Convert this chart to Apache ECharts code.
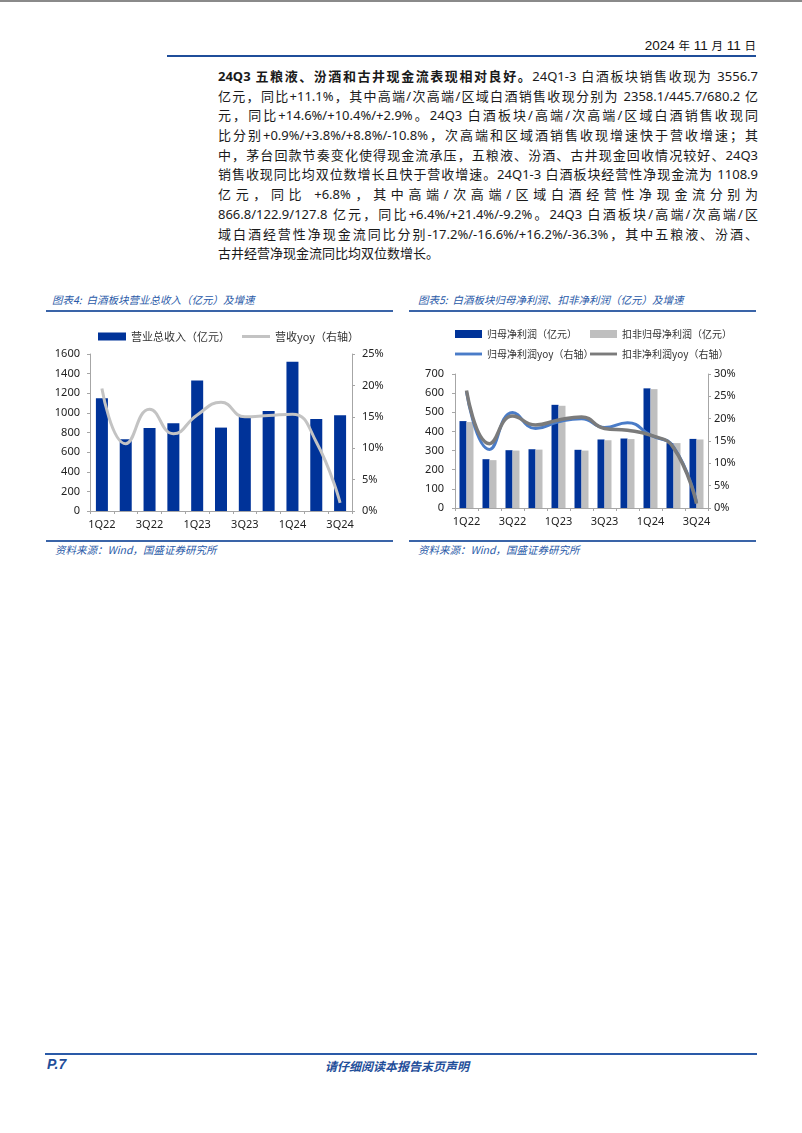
<!DOCTYPE html>
<html><head><meta charset="utf-8">
<script src="https://cdn.jsdelivr.net/npm/echarts@6/dist/echarts.min.js"></script>
<style>
html,body{margin:0;padding:0;background:#fff;}
body{width:802px;height:1133px;position:relative;overflow:hidden;font-family:"Noto Sans","Noto Sans CJK SC",sans-serif;}
.abs{position:absolute;}
#topline{left:0;top:0;width:802px;height:2px;background:#8a8a8a;}
#date{right:46px;top:37px;font-size:13.5px;color:#111;font-family:"Liberation Sans","Noto Sans CJK SC",sans-serif;}
#date .c{font-size:11.5px;}
#hline{left:167px;top:55px;width:589px;height:2px;background:#1f4e9a;}
#body{left:218px;top:67px;width:540px;font-size:13px;color:#1a1a1a;}
#body div{height:19.7px;line-height:19.7px;white-space:nowrap;text-align:justify;text-align-last:justify;}
#body div.last{text-align-last:left;}
.ttl{font-size:10.5px;font-style:italic;color:#2a5aa8;font-family:"Noto Sans CJK SC",sans-serif;}
.bl{height:2px;background:#3a64a8;}
.src{font-size:10.5px;font-style:italic;color:#2a5aa8;font-family:"Noto Sans CJK SC",sans-serif;}
#fline{left:45px;top:1053px;width:712px;height:2px;background:#2a5aa8;}
#pno{left:47px;top:1056px;font-size:14px;font-weight:bold;font-style:italic;color:#1f4e9a;font-family:"Liberation Sans",sans-serif;}
#fnote{left:0;width:794px;text-align:center;top:1057px;font-size:12px;font-weight:bold;font-style:italic;color:#1f4e9a;font-family:"Noto Sans CJK SC",sans-serif;}
</style></head>
<body>
<div id="topline" class="abs"></div>
<div id="date" class="abs">2024 <span class="c">年</span> 11 <span class="c">月</span> 11 <span class="c">日</span></div>
<div id="hline" class="abs"></div>
<div id="body" class="abs">
<div><b>24Q3 五粮液、汾酒和古井现金流表现相对良好。</b>24Q1-3 白酒板块销售收现为 3556.7</div>
<div>亿元，同比+11.1%，其中高端/次高端/区域白酒销售收现分别为 2358.1/445.7/680.2 亿</div>
<div>元，同比+14.6%/+10.4%/+2.9%。24Q3 白酒板块/高端/次高端/区域白酒销售收现同</div>
<div>比分别+0.9%/+3.8%/+8.8%/-10.8%，次高端和区域酒销售收现增速快于营收增速；其</div>
<div>中，茅台回款节奏变化使得现金流承压，五粮液、汾酒、古井现金回收情况较好、24Q3</div>
<div>销售收现同比均双位数增长且快于营收增速。24Q1-3 白酒板块经营性净现金流为 1108.9</div>
<div>亿元，同比 +6.8%，其中高端/次高端/区域白酒经营性净现金流分别为</div>
<div>866.8/122.9/127.8 亿元，同比+6.4%/+21.4%/-9.2%。24Q3 白酒板块/高端/次高端/区</div>
<div>域白酒经营性净现金流同比分别-17.2%/-16.6%/+16.2%/-36.3%，其中五粮液、汾酒、</div>
<div class="last">古井经营净现金流同比均双位数增长。</div>
</div>

<div class="abs ttl" style="left:52px;top:292px;">图表4:&nbsp; 白酒板块营业总收入（亿元）及增速</div>
<div class="abs bl" style="left:46px;top:310px;width:347px;"></div>
<div class="abs ttl" style="left:418px;top:292px;">图表5:&nbsp; 白酒板块归母净利润、扣非净利润（亿元）及增速</div>
<div class="abs bl" style="left:409px;top:310px;width:347px;"></div>

<div id="c1" class="abs" style="left:40px;top:318px;width:370px;height:220px;"></div>
<div id="c2" class="abs" style="left:405px;top:318px;width:360px;height:220px;"></div>

<div class="abs bl" style="left:46px;top:540px;width:347px;"></div>
<div class="abs bl" style="left:409px;top:540px;width:347px;"></div>
<div class="abs src" style="left:55px;top:542px;">资料来源：Wind，国盛证券研究所</div>
<div class="abs src" style="left:418px;top:542px;">资料来源：Wind，国盛证券研究所</div>

<div id="fline" class="abs"></div>
<div id="pno" class="abs">P.7</div>
<div id="fnote" class="abs">请仔细阅读本报告末页声明</div>

<script>
// ---- data ----
const quarters = ['1Q22','2Q22','3Q22','4Q22','1Q23','2Q23','3Q23','4Q23','1Q24','2Q24','3Q24'];
const revenue = [1150, 730, 845, 893, 1330, 850, 964, 1020, 1522, 938, 975];
const revenueYoy = [19.5, 10.7, 16.2, 12.3, 15.3, 17.3, 15.0, 15.2, 15.4, 11.0, 1.3];
const netProfit = [454, 255, 302, 307, 539, 304, 358, 363, 625, 339, 361];
const deductProfit = [449, 250, 300, 305, 534, 300, 354, 360, 621, 339, 358];
const netProfitYoy = [26.0, 13.1, 21.4, 17.8, 19.3, 20.0, 18.0, 19.1, 16.3, 13.7, 1.3];
const deductProfitYoy = [26.3, 14.4, 20.6, 18.6, 19.7, 20.4, 17.8, 17.4, 16.3, 13.5, 1.0];
const leftTicks1 = {min:0, max:1600, interval:200};
const rightTicks1 = {min:0, max:25, interval:5};
const leftTicks2 = {min:0, max:700, interval:100};
const rightTicks2 = {min:0, max:30, interval:5};

const BLUE = '#003399';
const axisFont = 'Noto Sans';
const axisLine = {show:true, lineStyle:{color:'#a6a6a6', width:1}};
const legendFont = {fontFamily:'Noto Sans CJK SC', color:'#333'};
const LINE_ICON = 'path://M0,0 L30,0 L30,3.2 L0,3.2 Z';

function xAxis(){
  return {type:'category', data:quarters, boundaryGap:true,
    axisLine:axisLine,
    axisTick:{show:true, interval:0, length:3, lineStyle:{color:'#a6a6a6'}},
    axisLabel:{interval:1, fontSize:11, fontFamily:axisFont, color:'#222', margin:8}};
}
function yAxis(t, pos, pct, margin){
  return {type:'value', position:pos, min:t.min, max:t.max, interval:t.interval,
    axisLine:axisLine,
    axisTick:{show:true, length:3, lineStyle:{color:'#a6a6a6'}},
    splitLine:{show:false},
    axisLabel:{fontSize:11, fontFamily:axisFont, color:'#222', margin:margin,
      formatter: function(v){ return pct ? String(v) + '%' : String(v); }}};
}

const c1 = echarts.init(document.getElementById('c1'), null, {renderer:'canvas'});
c1.setOption({
  animation:false,
  legend:{top:8, left:53, itemWidth:28, itemHeight:8, itemGap:12,
    textStyle:Object.assign({fontSize:11}, legendFont),
    data:[{name:'营业总收入（亿元）', icon:'rect'}, {name:'营收yoy（右轴）', icon:LINE_ICON}]},
  grid:{left:50, right:58, top:36, bottom:27},
  xAxis:xAxis(),
  yAxis:[yAxis(leftTicks1,'left',false,10), yAxis(rightTicks1,'right',true,10)],
  series:[
    {name:'营业总收入（亿元）', type:'bar', data:revenue, barWidth:12, itemStyle:{color:BLUE}},
    {name:'营收yoy（右轴）', type:'line', yAxisIndex:1, data:revenueYoy, smooth:0.5,
      symbol:'none', lineStyle:{color:'#c3c3c3', width:3}, itemStyle:{color:'#c3c3c3'}, z:5}
  ]
});

const c2 = echarts.init(document.getElementById('c2'), null, {renderer:'canvas'});
c2.setOption({
  animation:false,
  legend:[
    {orient:'vertical', top:6, left:45, itemWidth:27, itemHeight:8, itemGap:10,
      textStyle:Object.assign({fontSize:10}, legendFont),
      data:[{name:'归母净利润（亿元）', icon:'rect'}, {name:'归母净利润yoy（右轴）', icon:LINE_ICON}]},
    {orient:'vertical', top:6, left:180, itemWidth:27, itemHeight:8, itemGap:10,
      textStyle:Object.assign({fontSize:10}, legendFont),
      data:[{name:'扣非归母净利润（亿元）', icon:'rect'}, {name:'扣非净利润yoy（右轴）', icon:LINE_ICON}]}
  ],
  grid:{left:50, right:57, top:56, bottom:30},
  xAxis:xAxis(),
  yAxis:[yAxis(leftTicks2,'left',false,11), yAxis(rightTicks2,'right',true,6)],
  series:[
    {name:'归母净利润（亿元）', type:'bar', data:netProfit, barWidth:7, barGap:'0%', itemStyle:{color:BLUE}},
    {name:'扣非归母净利润（亿元）', type:'bar', data:deductProfit, barWidth:7, barGap:'0%', itemStyle:{color:'#bfbfbf'}},
    {name:'归母净利润yoy（右轴）', type:'line', yAxisIndex:1, data:netProfitYoy, smooth:0.5,
      symbol:'none', lineStyle:{color:'#4a7cc8', width:3}, itemStyle:{color:'#4a7cc8'}, z:5},
    {name:'扣非净利润yoy（右轴）', type:'line', yAxisIndex:1, data:deductProfitYoy, smooth:0.5,
      symbol:'none', lineStyle:{color:'#7b7b7b', width:3.5}, itemStyle:{color:'#7b7b7b'}, z:6}
  ]
});
</script>
</body></html>
